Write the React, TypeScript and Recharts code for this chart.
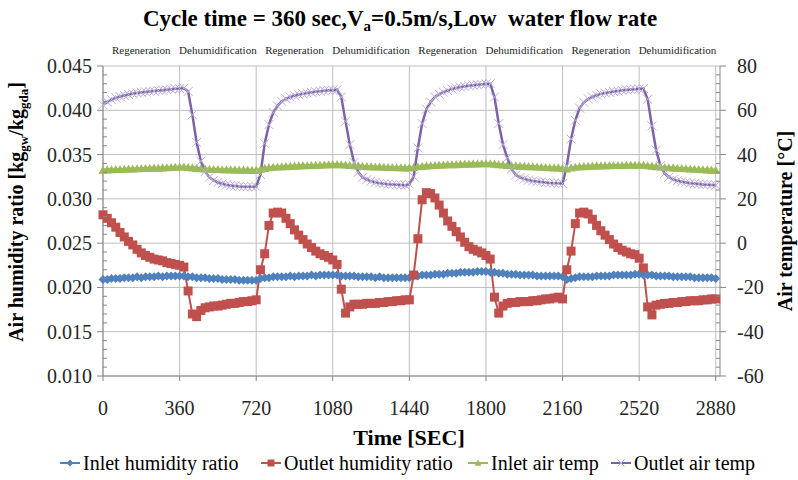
import React from "react";
import { LineChart, Line, XAxis, YAxis, CartesianGrid, ReferenceArea } from "recharts";

// sample times [s], one row per 360 s half cycle
const timeSec = [
  0, 20, 40, 60, 80, 100, 120, 140, 160, 180, 200, 220, 240, 260, 280, 300, 320, 340,
  360, 380, 400, 420, 440, 460, 480, 500, 520, 540, 560, 580, 600, 620, 640, 660, 680, 700,
  720, 740, 760, 780, 800, 820, 840, 860, 880, 900, 920, 940, 960, 980, 1000, 1020, 1040, 1060,
  1080, 1100, 1120, 1140, 1160, 1180, 1200, 1220, 1240, 1260, 1280, 1300, 1320, 1340, 1360, 1380, 1400, 1420,
  1440, 1460, 1480, 1500, 1520, 1540, 1560, 1580, 1600, 1620, 1640, 1660, 1680, 1700, 1720, 1740, 1760, 1780,
  1800, 1820, 1840, 1860, 1880, 1900, 1920, 1940, 1960, 1980, 2000, 2020, 2040, 2060, 2080, 2100, 2120, 2140,
  2160, 2180, 2200, 2220, 2240, 2260, 2280, 2300, 2320, 2340, 2360, 2380, 2400, 2420, 2440, 2460, 2480, 2500,
  2520, 2540, 2560, 2580, 2600, 2620, 2640, 2660, 2680, 2700, 2720, 2740, 2760, 2780, 2800, 2820, 2840, 2860,
  2880,
];

const inletHumidity = [
  0.0209, 0.0209, 0.021, 0.021, 0.021, 0.0211, 0.0211, 0.0211, 0.0212, 0.0211, 0.0212, 0.0212, 0.0212, 0.0213, 0.0212, 0.0213, 0.0213, 0.0213,
  0.0213, 0.0213, 0.0212, 0.0212, 0.0211, 0.0211, 0.0211, 0.021, 0.021, 0.021, 0.0209, 0.0209, 0.0209, 0.0209, 0.0208, 0.0208, 0.0208, 0.0208,
  0.0208, 0.021, 0.0211, 0.0211, 0.0212, 0.0212, 0.0212, 0.0212, 0.0213, 0.0212, 0.0213, 0.0213, 0.0213, 0.0214, 0.0213, 0.0214, 0.0214, 0.0214,
  0.0214, 0.0214, 0.0213, 0.0213, 0.0213, 0.0213, 0.0212, 0.0212, 0.0212, 0.0212, 0.0211, 0.0212, 0.0211, 0.0211, 0.0211, 0.0211, 0.0211, 0.0211,
  0.0211, 0.0213, 0.0213, 0.0214, 0.0214, 0.0214, 0.0215, 0.0215, 0.0215, 0.0216, 0.0216, 0.0216, 0.0217, 0.0217, 0.0217, 0.0217, 0.0218, 0.0218,
  0.0218, 0.0217, 0.0217, 0.0216, 0.0216, 0.0215, 0.0215, 0.0215, 0.0214, 0.0214, 0.0214, 0.0214, 0.0213, 0.0213, 0.0213, 0.0213, 0.0213, 0.0213,
  0.0212, 0.0209, 0.021, 0.0211, 0.0212, 0.0212, 0.0212, 0.0212, 0.0213, 0.0213, 0.0213, 0.0213, 0.0214, 0.0214, 0.0214, 0.0214, 0.0214, 0.0215,
  0.0215, 0.0214, 0.0214, 0.0214, 0.0213, 0.0213, 0.0213, 0.0213, 0.0212, 0.0212, 0.0212, 0.0212, 0.0212, 0.0211, 0.0211, 0.0211, 0.0211, 0.0211,
  0.021,
];

const outletHumidity = [
  0.0282, 0.0278, 0.0273, 0.0268, 0.0262, 0.0257, 0.0252, 0.0248, 0.0243, 0.0239, 0.0236, 0.0234, 0.0232, 0.0231, 0.023, 0.0228, 0.0227, 0.0226,
  0.0225, 0.0223, 0.0196, 0.017, 0.0167, 0.0174, 0.0177, 0.0178, 0.0179, 0.0179, 0.018, 0.0181, 0.0182, 0.0182, 0.0183, 0.0184, 0.0184, 0.0185,
  0.0186, 0.022, 0.0238, 0.027, 0.0284, 0.0285, 0.0284, 0.0278, 0.0272, 0.0265, 0.0259, 0.0254, 0.0249, 0.0245, 0.0241, 0.0238, 0.0236, 0.0234,
  0.0231, 0.0226, 0.0198, 0.0171, 0.0178, 0.0181, 0.0181, 0.0181, 0.0182, 0.0182, 0.0182, 0.0183, 0.0183, 0.0184, 0.0184, 0.0185, 0.0185, 0.0186,
  0.0186, 0.0214, 0.0255, 0.0299, 0.0307, 0.0306, 0.0301, 0.0293, 0.0284, 0.0275, 0.0269, 0.0263, 0.0257, 0.0251, 0.0246, 0.0243, 0.0241, 0.0239,
  0.0236, 0.0232, 0.0189, 0.0171, 0.0179, 0.0182, 0.0183, 0.0183, 0.0184, 0.0184, 0.0184, 0.0185, 0.0185, 0.0186, 0.0187, 0.0187, 0.0188, 0.0189,
  0.0187, 0.022, 0.0241, 0.0272, 0.0284, 0.0285, 0.0283, 0.0277, 0.027, 0.0264, 0.0259, 0.0254, 0.0249, 0.0245, 0.0242, 0.024, 0.0238, 0.0237,
  0.0233, 0.0222, 0.0178, 0.0169, 0.018, 0.0181, 0.0182, 0.0182, 0.0183, 0.0183, 0.0184, 0.0184, 0.0185, 0.0185, 0.0185, 0.0186, 0.0186, 0.0187,
  0.0187,
];

const inletTemp = [
  33.0, 33.1, 33.2, 33.3, 33.3, 33.4, 33.5, 33.5, 33.6, 33.7, 33.7, 33.8, 33.9, 33.9, 34.0, 34.1, 34.2, 34.3,
  34.4, 34.4, 34.2, 34.0, 33.8, 33.6, 33.5, 33.4, 33.3, 33.3, 33.2, 33.2, 33.1, 33.1, 33.0, 33.0, 33.0, 32.9,
  32.9, 33.3, 33.8, 34.1, 34.3, 34.4, 34.5, 34.6, 34.7, 34.8, 34.9, 35.0, 35.0, 35.1, 35.2, 35.2, 35.3, 35.4,
  35.5, 35.5, 35.4, 35.3, 35.1, 35.0, 34.9, 34.7, 34.6, 34.5, 34.4, 34.4, 34.3, 34.2, 34.2, 34.1, 34.1, 34.0,
  34.0, 34.2, 34.5, 34.7, 34.9, 35.0, 35.1, 35.2, 35.3, 35.4, 35.5, 35.5, 35.6, 35.7, 35.7, 35.8, 35.8, 35.9,
  35.9, 35.9, 35.7, 35.5, 35.3, 35.1, 35.0, 34.9, 34.8, 34.7, 34.6, 34.5, 34.4, 34.3, 34.2, 34.1, 34.0, 34.0,
  33.8, 33.5, 34.0, 34.3, 34.5, 34.6, 34.7, 34.8, 34.9, 34.9, 35.0, 35.0, 35.1, 35.1, 35.1, 35.2, 35.2, 35.2,
  35.2, 35.2, 35.0, 34.8, 34.6, 34.4, 34.2, 34.1, 34.0, 33.8, 33.7, 33.6, 33.5, 33.4, 33.3, 33.2, 33.1, 33.0,
  32.9,
];

const outletTemp = [
  62.5, 63.8, 64.8, 65.6, 66.2, 66.7, 67.1, 67.5, 67.8, 68.1, 68.3, 68.5, 68.7, 68.9, 69.1, 69.3, 69.5, 69.7,
  69.8, 70.0, 68.5, 58, 45.5, 37, 32.3, 29.8, 28.3, 27.4, 26.8, 26.3, 26.0, 25.8, 25.6, 25.5, 25.5, 25.5,
  25.5, 31, 45, 53.5, 59, 62, 64, 65.2, 66, 66.6, 67, 67.4, 67.8, 68.1, 68.4, 68.6, 68.8, 69.0,
  69.1, 69.3, 66, 55, 44.5, 36.5, 32, 29.8, 28.7, 28, 27.5, 27.1, 26.8, 26.6, 26.5, 26.4, 26.3, 26.2,
  26.6, 30, 43, 54, 60.5, 63.8, 66, 67.3, 68.2, 68.9, 69.6, 70.1, 70.5, 70.8, 71.1, 71.3, 71.5, 71.7,
  71.9, 72.0, 66, 54, 44.5, 38.5, 33.5, 30.8, 29.7, 29.0, 28.5, 28.1, 27.8, 27.6, 27.4, 27.2, 27.1, 27.0,
  26.9, 35, 47, 55.5, 61, 63.5, 65.2, 66, 66.8, 67.4, 67.8, 68.1, 68.4, 68.7, 69, 69.2, 69.4, 69.5,
  69.7, 69.8, 65, 53, 42, 35, 31.5, 29.8, 28.8, 28.2, 27.7, 27.4, 27.1, 26.9, 26.7, 26.5, 26.4, 26.3,
  26.2,
];

const xTicks = [0, 360, 720, 1080, 1440, 1800, 2160, 2520, 2880];
const humTicks = [0.01, 0.015, 0.02, 0.025, 0.03, 0.035, 0.04, 0.045];
const humTickLabels = ["0.010", "0.015", "0.020", "0.025", "0.030", "0.035", "0.040", "0.045"];
const tempTicks = [-60, -40, -20, 0, 20, 40, 60, 80];
const phases = [
  "Regeneration", "Dehumidification", "Regeneration", "Dehumidification",
  "Regeneration", "Dehumidification", "Regeneration", "Dehumidification",
];

const series = [
  { key: "inletHum", name: "Inlet humidity ratio", color: "#4F81BD", mark: "diamond", axis: "h", legendX: 60 },
  { key: "outletHum", name: "Outlet humidity ratio", color: "#C0504D", mark: "square", axis: "h", legendX: 261 },
  { key: "inletTemp", name: "Inlet air temp", color: "#9BBB59", mark: "triangle", axis: "T", legendX: 468 },
  { key: "outletTemp", name: "Outlet air temp", color: "#7E62A8", mark: "cross", axis: "T", legendX: 611 },
];

const rows = timeSec.map((t, i) => ({
  t,
  inletHum: inletHumidity[i],
  outletHum: outletHumidity[i],
  inletTemp: inletTemp[i],
  outletTemp: outletTemp[i],
}));

// minor tick marks: every 0.001 and every 4 °C
const humAll = Array.from({ length: 36 }, (_, i) => Math.round((0.01 + i * 0.001) * 1000) / 1000);
const tempAll = Array.from({ length: 36 }, (_, i) => -60 + i * 4);

const AXIS = "#868686";
const GRID = "#BEBEBE";
const FONT = "'Liberation Serif', 'Times New Roman', serif";

function marker(kind: string, cx: number, cy: number, color: string, key?: any, small = false) {
  const r = small ? 3.5 : 4.5;
  if (kind === "diamond")
    return <path key={key} d={`M${cx} ${cy - r}L${cx + r} ${cy}L${cx} ${cy + r}L${cx - r} ${cy}Z`} fill={color} />;
  if (kind === "square")
    return <rect key={key} x={cx - r} y={cy - r} width={2 * r} height={2 * r} fill={color} />;
  if (kind === "triangle")
    return <path key={key} d={`M${cx} ${cy - r}L${cx + r} ${cy + r * 0.8}L${cx - r} ${cy + r * 0.8}Z`} fill={color} />;
  return (
    <path
      key={key}
      d={`M${cx - r} ${cy - r}L${cx + r} ${cy + r}M${cx - r} ${cy + r}L${cx + r} ${cy - r}`}
      stroke="#BCAEDB"
      strokeWidth={1}
      fill="none"
    />
  );
}

const dotFor = (kind: string, color: string) => (p: any) =>
  p.cx == null || p.cy == null ? <g key={p.index} /> : marker(kind, p.cx, p.cy, color, p.index);

const HumTick = (p: any) => {
  const v = p.payload.value;
  const ax = p.x + 11;
  const mi = humTicks.findIndex((m) => Math.abs(m - v) < 1e-9);
  if (mi < 0) return <line x1={ax} x2={ax + 4} y1={p.y} y2={p.y} stroke={AXIS} />;
  return (
    <g>
      <line x1={ax - 6} x2={ax} y1={p.y} y2={p.y} stroke={AXIS} />
      <text x={p.x} y={p.y} dy="0.35em" textAnchor="end" fontSize={20} fill="#262626" fontFamily={FONT}>
        {humTickLabels[mi]}
      </text>
    </g>
  );
};

const TempTick = (p: any) => {
  const v = p.payload.value;
  const ax = p.x - 17;
  if (!tempTicks.includes(v)) return <line x1={ax - 4} x2={ax} y1={p.y} y2={p.y} stroke={AXIS} />;
  return (
    <g>
      <line x1={ax} x2={ax + 6} y1={p.y} y2={p.y} stroke={AXIS} />
      <text x={p.x} y={p.y} dy="0.35em" textAnchor="start" fontSize={20} fill="#262626" fontFamily={FONT}>
        {v}
      </text>
    </g>
  );
};

export default function App() {
  return (
    <div style={{ position: "absolute", left: 0, top: 0, width: 798, height: 480, background: "#fff", fontFamily: FONT }}>
      <LineChart width={798} height={480} data={rows} margin={{ top: 66, right: 0, bottom: 44, left: 0 }}>
        <CartesianGrid
          yAxisId="h"
          horizontalValues={humTicks}
          verticalValues={xTicks}
          stroke={GRID}
        />
        <XAxis
          dataKey="t"
          type="number"
          domain={[0, 2900]}
          ticks={xTicks}
          interval={0}
          height={60}
          tickSize={5}
          tickMargin={20}
          stroke={AXIS}
          tick={{ fontSize: 20, fill: "#262626", fontFamily: FONT }}
        />
        <YAxis
          yAxisId="h"
          type="number"
          domain={[0.01, 0.045]}
          ticks={humAll}
          interval={0}
          width={103}
          tickLine={false}
          tickSize={0}
          tickMargin={11}
          stroke={AXIS}
          tick={HumTick}
        />
        <YAxis
          yAxisId="T"
          orientation="right"
          type="number"
          domain={[-60, 80]}
          ticks={tempAll}
          interval={0}
          width={78}
          tickLine={false}
          tickSize={0}
          tickMargin={17}
          stroke={AXIS}
          tick={TempTick}
        />
        {phases.map((ph, i) => (
          <ReferenceArea
            key={i}
            yAxisId="h"
            x1={xTicks[i]}
            x2={xTicks[i + 1]}
            fill="none"
            stroke="none"
            label={{ value: ph, position: "top", offset: 12, fontSize: 11, fill: "#262626", fontFamily: FONT }}
          />
        ))}
        {series.map((s) => (
          <Line
            key={s.key}
            yAxisId={s.axis}
            dataKey={s.key}
            name={s.name}
            stroke={s.color}
            strokeWidth={s.mark === "cross" ? 2.5 : s.mark === "square" ? 2 : 3}
            dot={dotFor(s.mark, s.color)}
            activeDot={false}
            isAnimationActive={false}
          />
        ))}
      </LineChart>
      <svg width={798} height={480} style={{ position: "absolute", left: 0, top: 0, pointerEvents: "none" }} fontFamily={FONT}>
        <text x={400} y={26} textAnchor="middle" fontSize={23} fontWeight="bold" fill="#000" style={{ whiteSpace: "pre" }}>
          Cycle time = 360 sec,V<tspan dy={5} fontSize={15}>a</tspan>
          <tspan dy={-5}>{"=0.5m/s,Low  water flow rate"}</tspan>
        </text>
        <text x={409} y={445} textAnchor="middle" fontSize={22} fontWeight="bold" fill="#000">
          Time [SEC]
        </text>
        <text transform="translate(23,212) rotate(-90)" textAnchor="middle" fontSize={20} fontWeight="bold" fill="#000">
          Air humidity ratio [kg<tspan dy={5} fontSize={13}>gw</tspan>
          <tspan dy={-5}>/kg</tspan>
          <tspan dy={5} fontSize={13}>gda</tspan>
          <tspan dy={-5}>]</tspan>
        </text>
        <text transform="translate(792,221) rotate(-90)" textAnchor="middle" fontSize={20} fontWeight="bold" fill="#000">
          Air temperature [°C]
        </text>
        {series.map((s) => (
          <g key={s.key}>
            <line x1={s.legendX} x2={s.legendX + 20} y1={463} y2={463} stroke={s.color} strokeWidth={2} />
            {marker(s.mark, s.legendX + 10, 463, s.color, undefined, true)}
            <text x={s.legendX + 23} y={470} fontSize={20} fill="#000">
              {s.name}
            </text>
          </g>
        ))}
      </svg>
    </div>
  );
}
